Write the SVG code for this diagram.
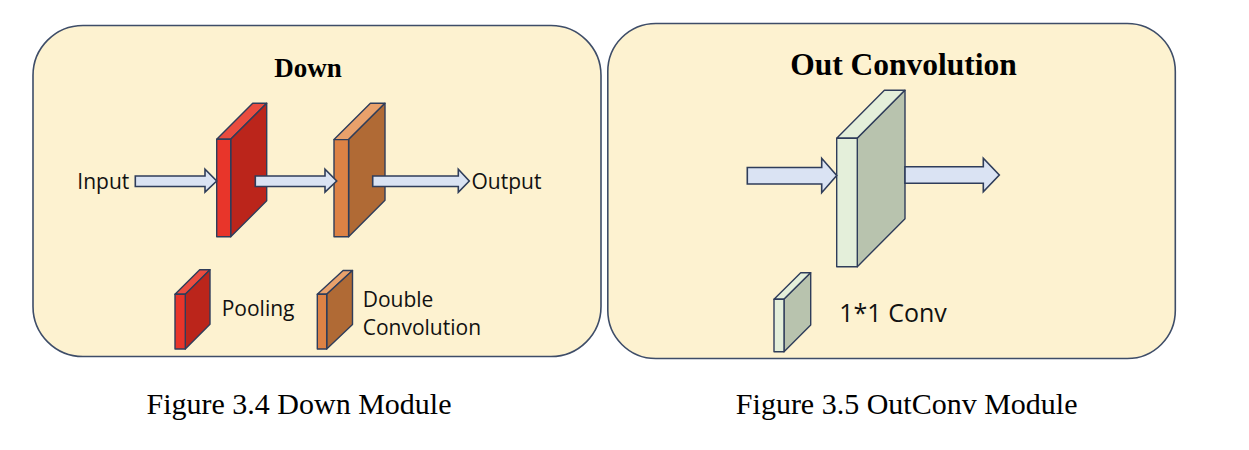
<svg xmlns="http://www.w3.org/2000/svg" width="1249" height="450" viewBox="0 0 1249 450">
<style>
.panel{fill:#FDF2D0;stroke:#3E4D68;stroke-width:1.6}
.blk{stroke:#2F3D5A;stroke-width:1.4;stroke-linejoin:round}
.arr{fill:#DAE3F3;stroke:#2F3D5A;stroke-width:1.6;stroke-linejoin:miter}
.lbl{font-family:"Open Sans","Noto Sans",sans-serif;fill:#111;font-size:21px}
.big{font-size:25px}
.ttl{font-family:"Liberation Serif","Times New Roman",serif;font-weight:bold;fill:#000;text-anchor:middle}
.cap{font-family:"Liberation Serif","Times New Roman",serif;fill:#000;font-size:30px;text-anchor:middle}
.rf{fill:#E8352A}.rs{fill:#BB251B}.rt{fill:#EA4C3F}
.of{fill:#DD8245}.os{fill:#B06A35}.ot{fill:#E9A16B}
.gf{fill:#E4EFDA}.gs{fill:#B8C3AE}.gt{fill:#E4EFDA}
</style>

<g id="panel-down">
<rect class="panel" x="33" y="25.5" width="568" height="331" rx="50" ry="50"/>
<text class="ttl" x="308" y="76.5" font-size="27">Down</text>
</g>

<g id="panel-out">
<rect class="panel" x="607.8" y="23.5" width="567.5" height="335" rx="48" ry="48"/>
<text class="ttl" x="903.5" y="75" font-size="31.5">Out Convolution</text>
</g>

<g id="pooling-block">
<polygon class="blk rt" points="216.7,139.3 230.7,139.3 266.7,103.3 252.7,103.3"/>
<polygon class="blk rs" points="230.7,139.3 266.7,103.3 266.7,200.7 230.7,236.7"/>
<rect class="blk rf" x="216.7" y="139.3" width="14" height="97.4"/>
</g>

<g id="doubleconv-block">
<polygon class="blk ot" points="334,139.6 348.6,139.6 385,103.3 370.4,103.3"/>
<polygon class="blk os" points="348.6,139.6 385,103.3 385,200.3 348.6,236.7"/>
<rect class="blk of" x="334" y="139.6" width="14.6" height="97.1"/>
</g>

<g id="outconv-block">
<polygon class="blk gt" points="836.7,138.3 857.3,138.3 905,90.3 884.4,90.3"/>
<polygon class="blk gs" points="857.3,138.3 905,90.3 905,218.7 857.3,266.7"/>
<rect class="blk gf" x="836.7" y="138.3" width="20.6" height="128.4"/>
</g>

<g id="connectors">
<polygon class="arr" points="135.3,176 205,176 205,169.3 216.7,181 205,192.2 205,186.5 135.3,186.5"/>
<polygon class="arr" points="255.3,176 325,176 325,169.3 336.7,181 325,192.2 325,186.5 255.3,186.5"/>
<polygon class="arr" points="372.7,176 458.3,176 458.3,169.3 469.3,181 458.3,192.2 458.3,186.5 372.7,186.5"/>
<polygon class="arr" points="747.3,167.5 821.7,167.5 821.7,158.3 836.7,175.5 821.7,192.7 821.7,184 747.3,184"/>
<polygon class="arr" points="905,166.7 983.3,166.7 983.3,158.3 999.3,175 983.3,191.7 983.3,183.3 905,183.3"/>
</g>

<g id="io-labels">
<text class="lbl" x="77.3" y="188.5">Input</text>
<text class="lbl" x="471.5" y="188.5">Output</text>
</g>

<g id="legend-pooling">
<polygon class="blk rt" points="175,294.3 185.3,294.3 210,269.8 199.7,269.8"/>
<polygon class="blk rs" points="185.3,294.3 210,269.8 210,324.3 185.3,349"/>
<rect class="blk rf" x="175" y="294.3" width="10.3" height="54.7"/>
<text class="lbl" x="221.7" y="316">Pooling</text>
</g>

<g id="legend-doubleconv">
<polygon class="blk ot" points="317.3,294.3 326.7,294.3 352.5,270.5 343.1,270.5"/>
<polygon class="blk os" points="326.7,294.3 352.5,270.5 352.5,324.6 326.7,349"/>
<rect class="blk of" x="317.3" y="294.3" width="9.4" height="54.7"/>
<text class="lbl" x="362.7" y="306.5">Double</text>
<text class="lbl" x="362.7" y="335">Convolution</text>
</g>

<g id="legend-conv1x1">
<polygon class="blk gt" points="774,299.3 784,299.3 810.7,272.7 800.7,272.7"/>
<polygon class="blk gs" points="784,299.3 810.7,272.7 810.7,325 784,351.7"/>
<rect class="blk gf" x="774" y="299.3" width="10" height="52.4"/>
<text class="lbl big" x="839.3" y="321.7">1*1 Conv</text>
</g>

<g id="captions">
<text class="cap" x="299" y="413.5">Figure 3.4 Down Module</text>
<text class="cap" x="906.7" y="413.5">Figure 3.5 OutConv Module</text>
</g>
</svg>
